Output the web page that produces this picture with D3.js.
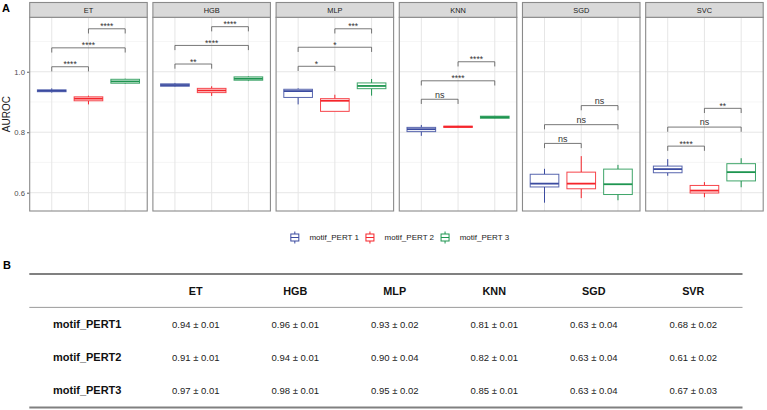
<!DOCTYPE html>
<html><head><meta charset="utf-8">
<script src="https://cdn.jsdelivr.net/npm/d3@7"></script>
<style>
html,body{margin:0;padding:0;background:#fff;}
svg{display:block;font-family:"Liberation Sans",Arial,sans-serif;}
</style></head>
<body>
<svg id="c" width="767" height="410"></svg>
<script>
// ---------- DATA ----------
const models = ["ET","HGB","MLP","KNN","SGD","SVC"];
const groups = ["motif_PERT 1","motif_PERT 2","motif_PERT 3"];
const colors = ["#3B4BA0","#F5252B","#1E9550"];
// box stats per model: [whiskerLow, q1, median, q3, whiskerHigh] for PERT1, PERT2, PERT3
const statsET  = [[0.931,0.934,0.937,0.940,0.945],[0.892,0.904,0.911,0.917,0.921],[0.960,0.962,0.968,0.975,0.977]];
const statsHGB = [[0.950,0.952,0.956,0.960,0.963],[0.920,0.931,0.938,0.945,0.952],[0.969,0.972,0.977,0.983,0.985]];
const statsMLP = [[0.892,0.915,0.936,0.942,0.945],[0.869,0.869,0.904,0.911,0.924],[0.921,0.944,0.953,0.963,0.976]];
const statsKNN = [[0.788,0.802,0.810,0.816,0.824],[0.815,0.816,0.818,0.820,0.821],[0.845,0.846,0.850,0.853,0.854]];
const statsSGD = [[0.567,0.619,0.630,0.661,0.679],[0.582,0.613,0.630,0.668,0.721],[0.575,0.594,0.628,0.678,0.692]];
const statsSVC = [[0.656,0.666,0.678,0.688,0.711],[0.585,0.599,0.607,0.624,0.635],[0.618,0.639,0.668,0.696,0.714]];
// significance brackets: pairs (1-2, 1-3, 2-3), bracket heights (AUROC units) and labels
const pairs = [[0,1],[0,2],[1,2]];
const bracketY = {
  ET:[1.0165,1.079,1.142], HGB:[1.0255,1.087,1.149], MLP:[1.018,1.081,1.142],
  KNN:[0.909,0.970,1.033], SGD:[0.763,0.825,0.888], SVC:[0.754,0.817,0.879]
};
const bracketLabels = {
  ET:["****","****","****"], HGB:["**","****","****"], MLP:["*","*","***"],
  KNN:["ns","****","****"], SGD:["ns","ns","ns"], SVC:["****","ns","**"]
};
const yTicks = [0.6,0.8,1.0];
const yMinor = [0.7,0.9,1.1];
// table
const tableCols = ["ET","HGB","MLP","KNN","SGD","SVR"];
const tableRows = ["motif_PERT1","motif_PERT2","motif_PERT3"];
const rowPERT1 = ["0.94 ± 0.01","0.96 ± 0.01","0.93 ± 0.02","0.81 ± 0.01","0.63 ± 0.04","0.68 ± 0.02"];
const rowPERT2 = ["0.91 ± 0.01","0.94 ± 0.01","0.90 ± 0.04","0.82 ± 0.01","0.63 ± 0.04","0.61 ± 0.02"];
const rowPERT3 = ["0.97 ± 0.01","0.98 ± 0.01","0.95 ± 0.02","0.85 ± 0.01","0.63 ± 0.04","0.67 ± 0.03"];

const statsByModel = {ET:statsET,HGB:statsHGB,MLP:statsMLP,KNN:statsKNN,SGD:statsSGD,SVC:statsSVC};
const tableData = [rowPERT1,rowPERT2,rowPERT3];

// ---------- LAYOUT ----------
const svg = d3.select("#c");
const panelTop = 17.3, panelBottom = 211, stripTop = 2.5;
const facet = d3.scaleBand().domain(models).range([29.7,763.2]).paddingInner(0.046).paddingOuter(0);
const y = d3.scaleLinear().domain([0.5395,1.18]).range([panelBottom,panelTop]);
const x = d3.scalePoint().domain(groups).range([0,facet.bandwidth()]).padding(0.6);
const boxW = x.step()*0.78;
const tip = 0.0155;
const borderCol = "#8a8a8a";

// Panel label A
svg.append("text").attr("x",2).attr("y",12).attr("font-size",11).attr("font-weight","bold").attr("fill","#000").text("A");

// Y axis title
svg.append("text").attr("transform",`translate(10,${(panelTop+panelBottom)/2}) rotate(-90)`)
  .attr("text-anchor","middle").attr("font-size",10).attr("fill","#1a1a1a").text("AUROC");

// Y axis (left of first panel)
const yAxis = d3.axisLeft(y).tickValues(yTicks).tickFormat(d3.format(".1f")).tickSize(2.7).tickPadding(2);
const ya = svg.append("g").attr("transform",`translate(${facet(models[0])},0)`).call(yAxis);
ya.select(".domain").remove();
ya.selectAll(".tick line").attr("stroke","#333").attr("stroke-width",0.8);
ya.selectAll(".tick text").attr("fill","#4d4d4d").attr("font-size",7.7).attr("font-family","Liberation Sans, Arial, sans-serif");

models.forEach(m=>{
  const g = svg.append("g").attr("transform",`translate(${facet(m)},0)`);
  const w = facet.bandwidth();
  g.append("rect").attr("x",0).attr("y",panelTop).attr("width",w).attr("height",panelBottom-panelTop).attr("fill","#fff");
  g.selectAll(".gmin").data(yMinor).join("line").attr("x1",0).attr("x2",w)
    .attr("y1",d=>y(d)).attr("y2",d=>y(d)).attr("stroke","#f0f0f0").attr("stroke-width",0.6);
  g.selectAll(".gmaj").data(yTicks).join("line").attr("x1",0).attr("x2",w)
    .attr("y1",d=>y(d)).attr("y2",d=>y(d)).attr("stroke","#e6e6e6").attr("stroke-width",1);
  g.selectAll(".gx").data(groups).join("line").attr("x1",d=>x(d)).attr("x2",d=>x(d))
    .attr("y1",panelTop).attr("y2",panelBottom).attr("stroke","#e6e6e6").attr("stroke-width",1);
  const st = statsByModel[m];
  groups.forEach((gr,i)=>{
    const s = st[i], cx = x(gr), col = colors[i];
    const bg = g.append("g");
    bg.append("line").attr("x1",cx).attr("x2",cx).attr("y1",y(s[4])).attr("y2",y(s[3])).attr("stroke",col).attr("stroke-width",1);
    bg.append("line").attr("x1",cx).attr("x2",cx).attr("y1",y(s[1])).attr("y2",y(s[0])).attr("stroke",col).attr("stroke-width",1);
    bg.append("rect").attr("x",cx-boxW/2).attr("width",boxW).attr("y",y(s[3])).attr("height",Math.max(y(s[1])-y(s[3]),1.2))
      .attr("fill","#fff").attr("stroke",col).attr("stroke-width",1).attr("stroke-opacity",0.85);
    bg.append("line").attr("x1",cx-boxW/2).attr("x2",cx+boxW/2).attr("y1",y(s[2])).attr("y2",y(s[2])).attr("stroke",col).attr("stroke-width",1.8);
  });
  pairs.forEach((p,k)=>{
    const by = bracketY[m][k], lab = bracketLabels[m][k];
    const x1 = x(groups[p[0]]), x2 = x(groups[p[1]]);
    g.append("path").attr("d",`M${x1},${y(by-tip)}V${y(by)}H${x2}V${y(by-tip)}`)
      .attr("fill","none").attr("stroke","#555").attr("stroke-width",0.8);
    const isNs = lab==="ns";
    g.append("text").attr("x",(x1+x2)/2).attr("y",y(by)-(isNs?1.6:-0.5))
      .attr("text-anchor","middle").attr("font-size",isNs?9:8.5).attr("fill","#333").text(lab);
  });
  g.append("rect").attr("x",0).attr("y",panelTop).attr("width",w).attr("height",panelBottom-panelTop)
    .attr("fill","none").attr("stroke",borderCol).attr("stroke-width",1.1);
  g.append("rect").attr("x",0).attr("y",stripTop).attr("width",w).attr("height",panelTop-stripTop)
    .attr("fill","#d9d9d9").attr("stroke",borderCol).attr("stroke-width",1.1);
  g.append("text").attr("x",w/2).attr("y",(stripTop+panelTop)/2+2.6).attr("text-anchor","middle")
    .attr("font-size",7.4).attr("fill","#1a1a1a").text(m);
});

// Legend
const leg = svg.append("g");
const legY = 237.5;
let cursor = 0;
groups.forEach((gr,i)=>{
  const it = leg.append("g");
  const kx = 4;
  it.append("line").attr("x1",kx).attr("x2",kx).attr("y1",legY-6).attr("y2",legY+6).attr("stroke",colors[i]).attr("stroke-width",1);
  it.append("rect").attr("x",kx-4).attr("y",legY-3.5).attr("width",8).attr("height",7).attr("fill","#fff").attr("stroke",colors[i]).attr("stroke-width",1);
  it.append("line").attr("x1",kx-4).attr("x2",kx+4).attr("y1",legY).attr("y2",legY).attr("stroke",colors[i]).attr("stroke-width",1);
  const t = it.append("text").attr("x",18.6).attr("y",legY+2.8).attr("font-size",8).attr("fill","#1a1a1a").text(gr);
  const tw = t.node().getComputedTextLength();
  it.attr("transform",`translate(${cursor},0)`);
  cursor += 18.6 + tw + 7;
});
const legW = cursor - 7;
leg.attr("transform",`translate(${400 - legW/2},0)`);

// ---------- TABLE B ----------
svg.append("text").attr("x",3).attr("y",269).attr("font-size",11).attr("font-weight","bold").attr("fill","#000").text("B");
const tcol = d3.scaleBand().domain(tableCols).range([146,743]);
const trow = d3.scaleBand().domain(["header",...tableRows]).range([274,407.5]);
const tLeft = 29.3, tRight = 742.5;
svg.append("line").attr("x1",tLeft).attr("x2",tRight).attr("y1",274).attr("y2",274).attr("stroke","#808080").attr("stroke-width",1.8);
svg.append("line").attr("x1",tLeft).attr("x2",tRight).attr("y1",trow("header")+trow.bandwidth()).attr("y2",trow("header")+trow.bandwidth()).attr("stroke","#9a9a9a").attr("stroke-width",1);
svg.append("line").attr("x1",tLeft).attr("x2",tRight).attr("y1",407.5).attr("y2",407.5).attr("stroke","#808080").attr("stroke-width",1.8);
svg.selectAll(".th").data(tableCols).join("text")
  .attr("x",d=>tcol(d)+tcol.bandwidth()/2).attr("y",trow("header")+trow.bandwidth()/2+3.9)
  .attr("text-anchor","middle").attr("font-size",10.8).attr("font-weight","bold").attr("fill","#111").text(d=>d);
tableRows.forEach((r,i)=>{
  const cy = trow(r)+trow.bandwidth()/2+3.5;
  svg.append("text").attr("x",53).attr("y",cy).attr("font-size",11).attr("font-weight","bold").attr("fill","#111").text(r);
  svg.selectAll(".td"+i).data(tableData[i]).join("text")
    .attr("x",(d,j)=>tcol(tableCols[j])+tcol.bandwidth()/2).attr("y",cy)
    .attr("text-anchor","middle").attr("font-size",9.5).attr("fill","#222").text(d=>d);
});
</script>
</body></html>
